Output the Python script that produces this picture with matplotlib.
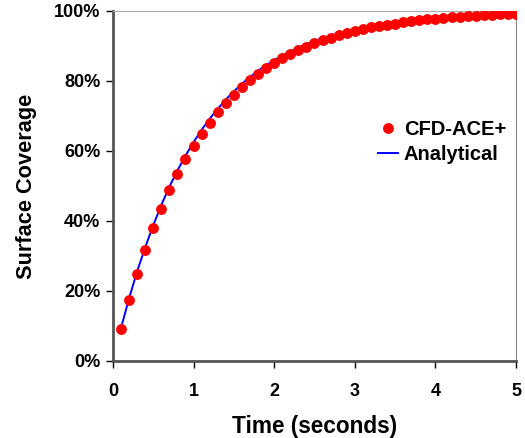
import matplotlib
matplotlib.use('Agg')
from matplotlib import pyplot as plt
from matplotlib.ticker import PercentFormatter

# time samples (s)
time_s = [0.1, 0.2, 0.3, 0.4, 0.5, 0.6, 0.7, 0.8, 0.9, 1.0,
          1.1, 1.2, 1.3, 1.4, 1.5, 1.6, 1.7, 1.8, 1.9, 2.0,
          2.1, 2.2, 2.3, 2.4, 2.5, 2.6, 2.7, 2.8, 2.9, 3.0,
          3.1, 3.2, 3.3, 3.4, 3.5, 3.6, 3.7, 3.8, 3.9, 4.0,
          4.1, 4.2, 4.3, 4.4, 4.5, 4.6, 4.7, 4.8, 4.9, 5.0]

# simulated coverage (%)
cfd_ace = [9.1, 17.3, 24.9, 31.7, 37.9, 43.5, 48.7, 53.3, 57.6, 61.4,
           64.9, 68.1, 71.0, 73.6, 76.0, 78.2, 80.2, 82.0, 83.6, 85.1,
           86.5, 87.7, 88.8, 89.8, 90.8, 91.6, 92.4, 93.0, 93.7, 94.3,
           94.8, 95.3, 95.7, 96.1, 96.4, 96.8, 97.1, 97.3, 97.6, 97.8,
           98.0, 98.2, 98.3, 98.5, 98.6, 98.7, 98.9, 99.0, 99.1, 99.1]

# analytical coverage (%)
analytical = [9.3, 17.8, 25.5, 32.4, 38.7, 44.5, 49.7, 54.4, 58.6, 62.5,
              66.0, 69.2, 72.0, 74.7, 77.0, 79.2, 81.1, 82.9, 84.5, 85.9,
              87.2, 88.4, 89.5, 90.5, 91.4, 92.2, 92.9, 93.6, 94.2, 94.7,
              95.2, 95.7, 96.1, 96.4, 96.8, 97.1, 97.3, 97.6, 97.8, 98.0,
              98.2, 98.4, 98.5, 98.7, 98.8, 98.9, 99.0, 99.1, 99.2, 99.3]

x_ticks = [0, 1, 2, 3, 4, 5]
y_ticks = [0, 20, 40, 60, 80, 100]

plt.rcParams['font.family'] = ['Liberation Sans', 'DejaVu Sans']
plt.rcParams['font.weight'] = 'bold'


def main():
	fig = plt.figure(figsize=(5.25, 4.38), dpi=100)
	ax = fig.add_axes([0.215, 0.176, 0.768, 0.799])

	ax.plot(time_s, cfd_ace, 'o', color='#ff0000', markersize=6.8, label='CFD-ACE+', zorder=3)
	ax.plot(time_s, analytical, '-', color='#0000ff', linewidth=1.4, label='Analytical', zorder=2)

	ax.set_xlim(0, 5)
	ax.set_ylim(0, 100)
	ax.set_xticks(x_ticks)
	ax.set_yticks(y_ticks)
	ax.yaxis.set_major_formatter(PercentFormatter(decimals=0))
	ax.tick_params(direction='out', length=5, width=1, color='black', labelsize=13)
	ax.tick_params(axis='x', pad=11)
	ax.tick_params(axis='y', pad=4)
	for lab in ax.get_xticklabels() + ax.get_yticklabels():
		lab.set_fontweight('bold')

	ax.spines['left'].set_color('#555555')
	ax.spines['bottom'].set_color('#555555')
	ax.spines['left'].set_linewidth(2)
	ax.spines['bottom'].set_linewidth(2)
	ax.spines['top'].set_color('#aaaaaa')
	ax.spines['right'].set_color('#888888')

	ax.set_xlabel('Time (seconds)', fontsize=16.3, fontweight='bold', labelpad=11)
	ax.set_ylabel('Surface Coverage', fontsize=15.7, fontweight='bold', labelpad=12)

	ax.legend(loc='center left', bbox_to_anchor=(0.657, 0.626), frameon=False,
	          handlelength=1.0, handletextpad=0.3, labelspacing=0.3,
	          borderpad=0, borderaxespad=0,
	          prop={'weight': 'bold', 'size': 14.5})

	fig.savefig('out.png', dpi=100)


if __name__ == "__main__":
	main()
